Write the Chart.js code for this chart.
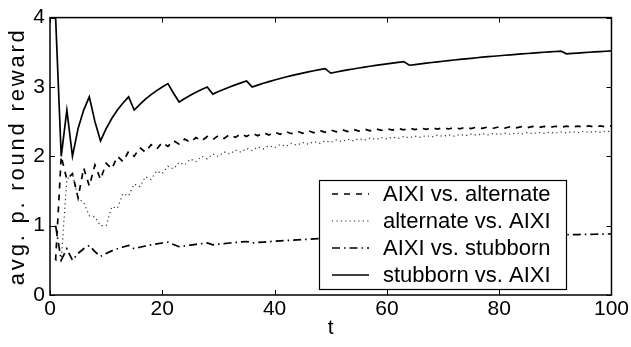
<!DOCTYPE html>
<html>
<head>
<meta charset="utf-8">
<script src="https://cdn.jsdelivr.net/npm/chart.js@4.4.1/dist/chart.umd.min.js"></script>
<style>
  html, body { margin: 0; padding: 0; background: #fff; }
  #reward { display: block; }
</style>
</head>
<body>
<canvas id="reward" width="631" height="347"></canvas>
<script>
// rounds t = 1..100
const rounds = Array.from({ length: 100 }, (_, i) => i + 1);

const seriesNames = [
  "AIXI vs. alternate",
  "alternate vs. AIXI",
  "AIXI vs. stubborn",
  "stubborn vs. AIXI",
];

const aixiVsAlternate = [
  0.500, 2.000, 1.667, 1.750, 1.400, 1.833, 1.571, 1.875, 1.667, 1.900,
  1.818, 2.000, 1.923, 2.071, 2.000, 2.125, 2.059, 2.167, 2.105, 2.200,
  2.143, 2.227, 2.174, 2.250, 2.200, 2.269, 2.222, 2.286, 2.241, 2.300,
  2.258, 2.313, 2.273, 2.324, 2.286, 2.333, 2.297, 2.342, 2.308, 2.350,
  2.317, 2.357, 2.326, 2.364, 2.333, 2.370, 2.340, 2.375, 2.347, 2.380,
  2.353, 2.385, 2.358, 2.389, 2.364, 2.393, 2.368, 2.397, 2.373, 2.400,
  2.377, 2.403, 2.381, 2.406, 2.385, 2.409, 2.388, 2.412, 2.391, 2.414,
  2.394, 2.417, 2.397, 2.419, 2.400, 2.421, 2.403, 2.423, 2.405, 2.425,
  2.407, 2.427, 2.410, 2.429, 2.412, 2.430, 2.414, 2.432, 2.416, 2.433,
  2.418, 2.435, 2.419, 2.436, 2.421, 2.438, 2.423, 2.439, 2.424, 2.440,
];

const alternateVsAixi = [
  0.500, 0.500, 1.667, 1.750, 1.400, 1.333, 1.143, 1.125, 1.000, 1.000,
  1.273, 1.250, 1.462, 1.429, 1.600, 1.563, 1.706, 1.667, 1.789, 1.750,
  1.857, 1.818, 1.913, 1.875, 1.960, 1.923, 2.000, 1.964, 2.034, 2.000,
  2.065, 2.031, 2.091, 2.059, 2.114, 2.083, 2.135, 2.105, 2.154, 2.125,
  2.171, 2.143, 2.186, 2.159, 2.200, 2.174, 2.213, 2.188, 2.224, 2.200,
  2.235, 2.212, 2.245, 2.222, 2.255, 2.232, 2.263, 2.241, 2.271, 2.250,
  2.279, 2.258, 2.286, 2.266, 2.292, 2.273, 2.299, 2.279, 2.304, 2.286,
  2.310, 2.292, 2.315, 2.297, 2.320, 2.303, 2.325, 2.308, 2.329, 2.313,
  2.333, 2.317, 2.337, 2.321, 2.341, 2.326, 2.345, 2.330, 2.348, 2.333,
  2.352, 2.337, 2.355, 2.340, 2.358, 2.344, 2.361, 2.347, 2.364, 2.350,
];

const aixiVsStubborn = [
  1.000, 0.500, 0.667, 0.500, 0.600, 0.667, 0.714, 0.625, 0.556, 0.600,
  0.636, 0.667, 0.692, 0.714, 0.667, 0.688, 0.706, 0.722, 0.737, 0.750,
  0.762, 0.727, 0.696, 0.708, 0.720, 0.731, 0.741, 0.750, 0.724, 0.733,
  0.742, 0.750, 0.758, 0.765, 0.771, 0.750, 0.757, 0.763, 0.769, 0.775,
  0.780, 0.786, 0.791, 0.795, 0.800, 0.804, 0.809, 0.813, 0.816, 0.800,
  0.804, 0.808, 0.811, 0.815, 0.818, 0.821, 0.825, 0.828, 0.831, 0.833,
  0.836, 0.839, 0.841, 0.828, 0.831, 0.833, 0.836, 0.838, 0.841, 0.843,
  0.845, 0.847, 0.849, 0.851, 0.853, 0.855, 0.857, 0.859, 0.861, 0.863,
  0.864, 0.866, 0.867, 0.869, 0.871, 0.872, 0.874, 0.875, 0.876, 0.878,
  0.879, 0.870, 0.871, 0.872, 0.874, 0.875, 0.876, 0.878, 0.879, 0.880,
];

const stubbornVsAixi = [
  4.000, 2.000, 2.667, 2.000, 2.400, 2.667, 2.857, 2.500, 2.222, 2.400,
  2.545, 2.667, 2.769, 2.857, 2.667, 2.750, 2.824, 2.889, 2.947, 3.000,
  3.048, 2.909, 2.783, 2.833, 2.880, 2.923, 2.963, 3.000, 2.897, 2.933,
  2.968, 3.000, 3.030, 3.059, 3.086, 3.000, 3.027, 3.053, 3.077, 3.100,
  3.122, 3.143, 3.163, 3.182, 3.200, 3.217, 3.234, 3.250, 3.265, 3.200,
  3.216, 3.231, 3.245, 3.259, 3.273, 3.286, 3.298, 3.310, 3.322, 3.333,
  3.344, 3.355, 3.365, 3.313, 3.323, 3.333, 3.343, 3.353, 3.362, 3.371,
  3.380, 3.389, 3.397, 3.405, 3.413, 3.421, 3.429, 3.436, 3.443, 3.450,
  3.457, 3.463, 3.470, 3.476, 3.482, 3.488, 3.494, 3.500, 3.506, 3.511,
  3.516, 3.478, 3.484, 3.489, 3.495, 3.500, 3.505, 3.510, 3.515, 3.520,
];

const xTicks = [0, 20, 40, 60, 80, 100];
const yTicks = [0, 1, 2, 3, 4];
const yTitle = "avg. p. round reward";

const FONT = "'Liberation Sans', Arial, sans-serif";

// matlab style frame with inward ticks + the y axis label
const frameTicks = {
  id: "frameTicks",
  afterDraw(chart) {
    const ctx = chart.ctx;
    const a = chart.chartArea;
    const xs = chart.scales.x;
    const ys = chart.scales.y;
    ctx.save();
    ctx.strokeStyle = "#000";
    ctx.lineWidth = 1.5;
    ctx.setLineDash([]);
    ctx.strokeRect(a.left, a.top, a.right - a.left, a.bottom - a.top);
    ctx.lineWidth = 1;
    ctx.beginPath();
    xTicks.forEach((v) => {
      const px = Math.round(xs.getPixelForValue(v)) + 0.5;
      ctx.moveTo(px, a.bottom);
      ctx.lineTo(px, a.bottom - 5);
      ctx.moveTo(px, a.top);
      ctx.lineTo(px, a.top + 5);
    });
    yTicks.forEach((v) => {
      const py = Math.round(ys.getPixelForValue(v)) + 0.5;
      ctx.moveTo(a.left, py);
      ctx.lineTo(a.left + 5, py);
      ctx.moveTo(a.right, py);
      ctx.lineTo(a.right - 5, py);
    });
    ctx.stroke();

    // rotated y label, a bit spread out like the original
    ctx.translate(18, (a.top + a.bottom) / 2);
    ctx.rotate(-Math.PI / 2);
    ctx.font = "22px " + FONT;
    ctx.letterSpacing = "2.8px";
    ctx.fillStyle = "#000";
    ctx.textAlign = "center";
    ctx.textBaseline = "middle";
    ctx.fillText(yTitle, 0, 0);
    ctx.restore();
  },
};

// legend box in the lower right corner
const legendBox = {
  id: "legendBox",
  afterDraw(chart, args, opts) {
    const ctx = chart.ctx;
    const { left, top, width, height, rowH, firstRow, lineX, lineLen, textX } = opts;
    ctx.save();
    ctx.fillStyle = "#fff";
    ctx.fillRect(left, top, width, height);
    ctx.strokeStyle = "#000";
    ctx.lineWidth = 1.2;
    ctx.setLineDash([]);
    ctx.strokeRect(left + 0.5, top + 0.5, width, height);
    ctx.font = "22px " + FONT;
    ctx.textBaseline = "middle";
    ctx.fillStyle = "#000";
    chart.data.datasets.forEach((ds, i) => {
      const y = top + firstRow + i * rowH;
      ctx.strokeStyle = ds.borderColor;
      ctx.lineWidth = ds.borderWidth;
      ctx.setLineDash(ds.borderDash || []);
      ctx.beginPath();
      ctx.moveTo(lineX, y);
      ctx.lineTo(lineX + lineLen, y);
      ctx.stroke();
      ctx.fillText(ds.label, textX, y + 1);
    });
    ctx.restore();
  },
};

const canvas = document.getElementById("reward");

new Chart(canvas, {
  type: "line",
  data: {
    labels: rounds,
    datasets: [
      {
        label: seriesNames[0],
        data: aixiVsAlternate,
        borderColor: "#000",
        borderWidth: 1.7,
        borderDash: [6, 6],
      },
      {
        label: seriesNames[1],
        data: alternateVsAixi,
        borderColor: "#333",
        borderWidth: 1.2,
        borderDash: [1.2, 3.2],
      },
      {
        label: seriesNames[2],
        data: aixiVsStubborn,
        borderColor: "#000",
        borderWidth: 1.7,
        borderDash: [8, 4, 1.5, 4],
      },
      {
        label: seriesNames[3],
        data: stubbornVsAixi,
        borderColor: "#000",
        borderWidth: 1.7,
      },
    ],
  },
  options: {
    responsive: false,
    animation: false,
    devicePixelRatio: 1,
    layout: { padding: { top: 14, right: 19, left: 0, bottom: 0 } },
    elements: { point: { radius: 0 }, line: { tension: 0, fill: false } },
    plugins: {
      legend: { display: false },
      tooltip: { enabled: false },
      legendBox: {
        left: 319, top: 180, width: 247, height: 109,
        firstRow: 14, rowH: 27, lineX: 332, lineLen: 37, textX: 383,
      },
    },
    scales: {
      x: {
        type: "linear",
        min: 0,
        max: 100,
        afterBuildTicks: (s) => { s.ticks = xTicks.map((v) => ({ value: v })); },
        afterFit: (s) => { s.height = 52; },
        grid: { display: false, drawTicks: false },
        border: { display: false },
        ticks: { color: "#000", font: { family: FONT, size: 21 }, padding: 2, maxRotation: 0 },
        title: { display: true, text: "t", color: "#000", font: { family: FONT, size: 21 }, padding: { top: 0, bottom: 6 } },
      },
      y: {
        min: 0,
        max: 4,
        afterBuildTicks: (s) => { s.ticks = yTicks.map((v) => ({ value: v })); },
        afterFit: (s) => { s.width = 50; },
        grid: { display: false, drawTicks: false },
        border: { display: false },
        ticks: { color: "#000", font: { family: FONT, size: 21 }, padding: 5 },
      },
    },
  },
  plugins: [frameTicks, legendBox],
});
</script>
</body>
</html>
